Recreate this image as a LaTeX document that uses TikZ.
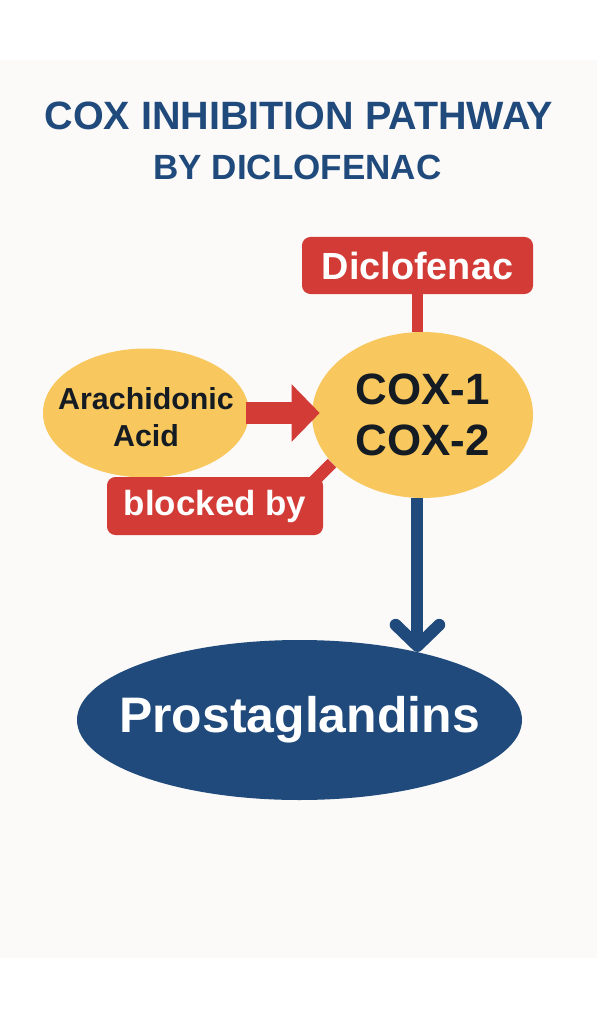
\documentclass[tikz,border=0pt]{standalone}
\usepackage{fontspec}
\setmainfont{Liberation Sans}
\usetikzlibrary{calc}
\usetikzlibrary{shapes.geometric}
\usetikzlibrary{arrows.meta}
\definecolor{coxblue}{HTML}{1F4A7B}
\definecolor{coxred}{HTML}{D23B36}
\definecolor{coxyellow}{HTML}{F8C75D}
\definecolor{coxink}{HTML}{141B22}
\definecolor{panel}{HTML}{FBFAF9}
\newcommand{\pix}{0.025cm}
\tikzset{
  heading/.style={anchor=base, inner sep=0pt, text=coxblue},
  enzyme/.style={ellipse, fill=coxyellow, inner sep=0pt},
  enzymetext/.style={inner sep=0pt, text=coxink, align=center},
  drugbox/.style={rectangle, rounded corners=6pt, fill=coxred, text=white, inner sep=0pt},
  product/.style={ellipse, fill=coxblue, inner sep=0pt},
  feed/.style={coxred, line width=15.6pt, -{Triangle[length=20pt,width=39.7pt]}},
  inhibit/.style={coxred, line width=8.5pt},
  yield/.style={coxblue, line width=8.5pt, -{Straight Barb[length=15pt,width=31pt,round]}}
}
\begin{document}
\begin{tikzpicture}[x=0.025cm,y=-0.025cm]
% page with its light panel
\useasboundingbox (0,0) rectangle (597,1024);
\fill[white] (0,0) rectangle (597,1024);
\fill[panel] (0,60) rectangle (597,958);
% title
\node[heading, font=\bfseries\fontsize{28.1}{32}\selectfont] (title) at (299,130) {COX INHIBITION PATHWAY};
\node[heading, font=\bfseries\fontsize{24.9}{30}\selectfont] (subtitle) at (297.5,180) {BY DICLOFENAC};
% drug and enzymes
\node[drugbox, minimum width=231*\pix, minimum height=57*\pix, font=\bfseries\fontsize{26.9}{30}\selectfont] (dic) at (417.5,265.5) {Diclofenac};
\node[enzyme, minimum width=221*\pix, minimum height=166*\pix,
  label={[enzymetext, font=\bfseries\fontsize{31.2}{36}\selectfont]center:{COX-1\\COX-2}}] (cox) at (422.5,415) {};
\node[enzyme, minimum width=206*\pix, minimum height=129*\pix,
  label={[enzymetext, yshift=-3pt, font=\bfseries\fontsize{21.6}{26.2}\selectfont]center:{Arachidonic\\Acid}}] (aa) at (146,413) {};
\node[drugbox, minimum width=216*\pix, minimum height=58*\pix, font=\bfseries\fontsize{24.8}{30}\selectfont] (blk) at (215,506) {blocked by};
% product
\node[product, minimum width=445*\pix, minimum height=160*\pix,
  label={[inner sep=0pt, text=white, font=\bfseries\fontsize{35.5}{40}\selectfont]center:Prostaglandins}] (pros) at (299.5,720) {};
% connectors
\draw[feed, shorten <=-2pt, shorten >=-5.7pt] (aa.east) -- (aa.east -| cox.west);
\draw[inhibit] (dic.south) -- (dic.south |- cox.north);
\coordinate (blkjoin) at ($(blk.north east)+(-11,6)$);
\draw[inhibit] (blkjoin) -- (cox.208);
\draw[yield] (cox.south -| pros.30) -- (pros.30);
\end{tikzpicture}
\end{document}
